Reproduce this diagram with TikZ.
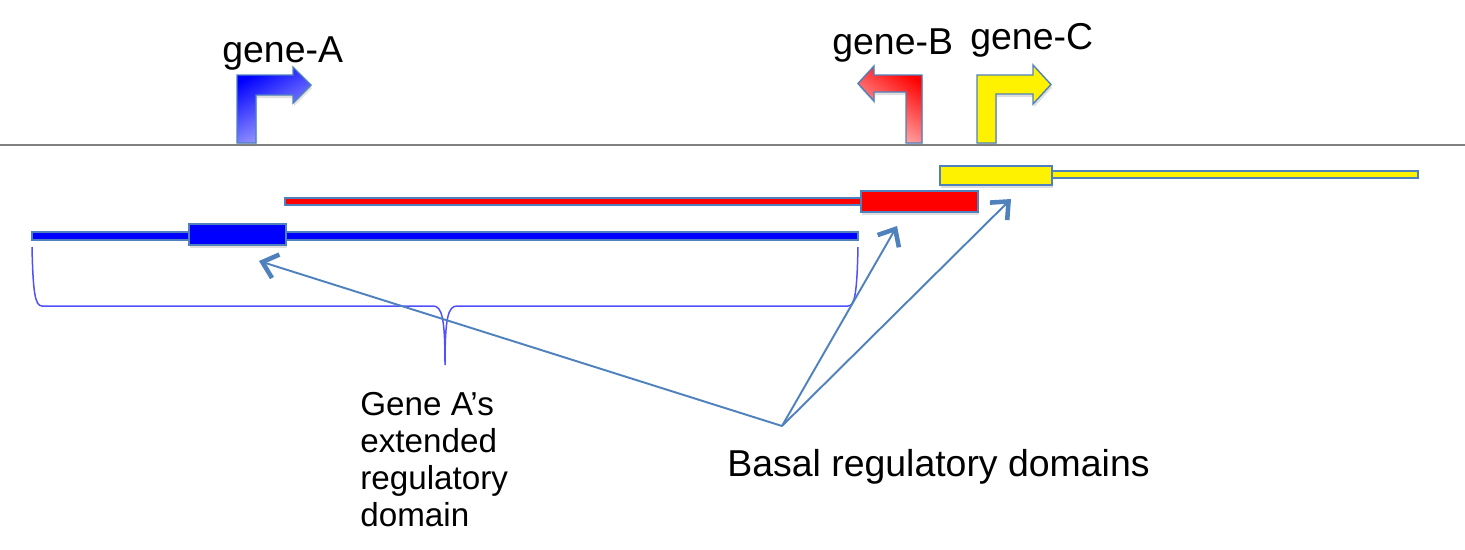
\documentclass[tikz,border=0pt]{standalone}
\usepackage{fontspec}
\setmainfont{Liberation Sans}
\usetikzlibrary{arrows.meta,shadows}

\definecolor{outline}{RGB}{79,129,189}
\definecolor{bracecol}{RGB}{80,80,255}
\definecolor{genome}{RGB}{128,128,128}

\begin{document}
\begin{tikzpicture}[x=0.02cm, y=-0.02cm,
  regbox/.style={draw=outline, line width=0.8pt},
  softshadow/.style={drop shadow={shadow xshift=0.6pt, shadow yshift=-1.8pt, opacity=0.25}},
  pointer/.style={draw=outline, line width=1.1pt,
    -{Straight Barb[length=8pt, width=14pt, line width=2.6pt]}},
  biglabel/.style={font=\fontsize{21.3}{25}\selectfont, inner sep=0pt},
  smalllabel/.style={font=\fontsize{18.9}{21}\selectfont, inner sep=0pt, align=left},
]

% Dimensions
\def\lineY{145}
\useasboundingbox (0,0) rectangle (1465,549);

% Genome line
\draw[genome, line width=1.2pt] (0,\lineY) -- (1465,\lineY);

% Promoter arrows
\path[regbox, softshadow, top color=blue, bottom color=blue!28, shading angle=30]
  (237,143) -- (237,75) -- (293,75) -- (293,67) -- (311,85) -- (293,103)
  -- (293,95) -- (256,95) -- (256,143) -- cycle;
\path[regbox, softshadow, top color=red, bottom color=red!20, shading angle=-35]
  (922,143) -- (922,75) -- (874,75) -- (874,66) -- (858,83.5) -- (874,101)
  -- (874,92) -- (906,92) -- (906,143) -- cycle;
\path[regbox, softshadow, fill=yellow]
  (977,143) -- (977,75) -- (1033,75) -- (1033,65) -- (1051,84.5) -- (1033,104)
  -- (1033,94) -- (996,94) -- (996,143) -- cycle;

% Gene labels
\node[biglabel, anchor=base west] (geneA) at (222,62) {gene-A};
\node[biglabel, anchor=base west] (geneB) at (832,54) {gene-B};
\node[biglabel, anchor=base west] (geneC) at (970,49) {gene-C};

% Regulatory domains
\draw[regbox, fill=yellow] (1052,171) rectangle (1418,178);
\draw[regbox, softshadow, fill=yellow] (940,166) rectangle (1052,185);
\draw[regbox, fill=red] (285,198) rectangle (862,205);
\draw[regbox, softshadow, fill=red] (861,191) rectangle (978,212);
\draw[regbox, fill=blue] (32,232) rectangle (858,240);
\draw[regbox, softshadow, fill=blue] (189,224) rectangle (286,245);

% Brace under gene A's domain
\draw[bracecol, line width=0.85pt]
  (32,247) .. controls (33,292) and (35,306) .. (42,306) -- (433,306)
  .. controls (442,306) and (445,318) .. (445,365)
  .. controls (445,318) and (448,306) .. (457,306) -- (848,306)
  .. controls (855,306) and (857,292) .. (858,247);

% Labels
\node[smalllabel, anchor=north west] (extended) at (360,392)
  {Gene A’s\\extended\\regulatory\\domain};
\node[biglabel, anchor=base west] (basal) at (727,476) {Basal regulatory domains};

% Pointers to basal domains
\coordinate (apex) at (782,426);
\coordinate (tipA) at (259,261);
\coordinate (tipB) at (897,226);
\coordinate (tipC) at (1011,199);
\foreach \t in {tipA,tipB,tipC} {
    \draw[pointer] (apex) -- (\t);
}

\end{tikzpicture}
\end{document}
